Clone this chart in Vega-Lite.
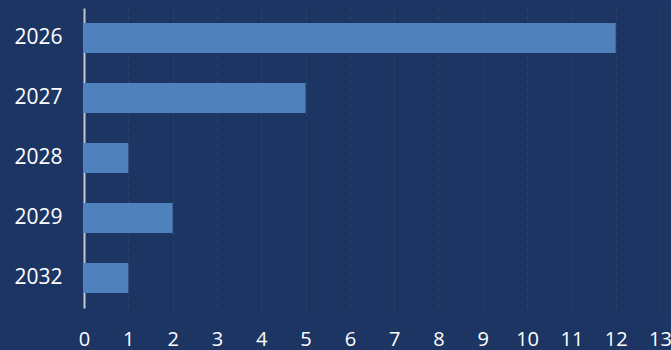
{
  "$schema": "https://vega.github.io/schema/vega-lite/v6.json",
  "width": 576,
  "height": 300,
  "autosize": "none",
  "padding": {"left": 84, "top": 8, "right": 11, "bottom": 42},
  "background": "#1d3563",
  "config": {"view": {"stroke": null}, "font": "Open Sans"},
  "data": {"values": [
    {"year": "2026", "count": 12},
    {"year": "2027", "count": 5},
    {"year": "2028", "count": 1},
    {"year": "2029", "count": 2},
    {"year": "2032", "count": 1}
  ]},
  "mark": {"type": "bar", "color": "#4f81bd"},
  "encoding": {
    "y": {"field": "year", "type": "nominal", "sort": null,
      "scale": {"paddingInner": 0.5, "paddingOuter": 0.25},
      "axis": {"title": null, "domainColor": "#c0c8d4", "domainWidth": 2, "ticks": false,
        "labelColor": "#ffffff", "labelFontSize": 21, "labelPadding": 22, "labelFont": "Open Sans"}},
    "x": {"field": "count", "type": "quantitative",
      "scale": {"domain": [0, 13], "nice": false},
      "axis": {"title": null, "domain": false, "ticks": false, "values": [0,1,2,3,4,5,6,7,8,9,10,11,12,13],
        "grid": true, "gridColor": "#ffffff", "gridOpacity": 0.07, "gridDash": [4, 4],
        "labelColor": "#ffffff", "labelFontSize": 20, "labelPadding": 37, "labelBaseline": "alphabetic",
        "labelOverlap": false, "labelFlush": false, "labelFont": "Open Sans"}}
  }
}
